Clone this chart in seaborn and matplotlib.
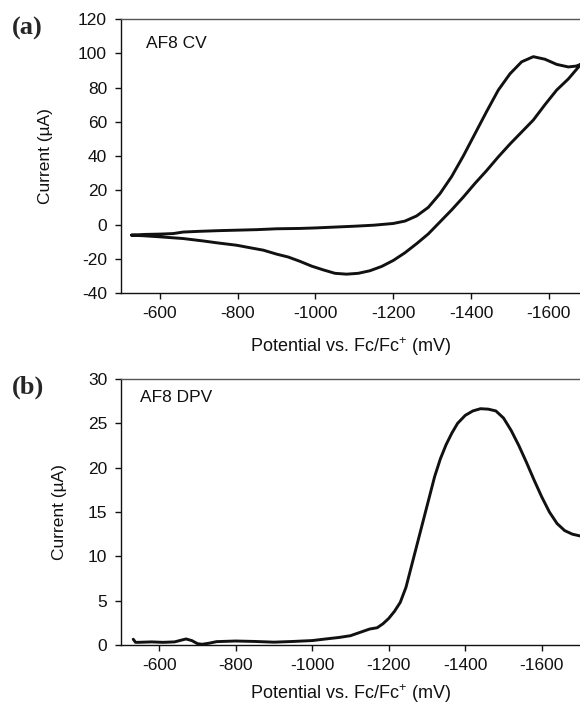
import numpy as np
import pandas as pd
import matplotlib
matplotlib.use('Agg')
import matplotlib.pyplot as plt
import seaborn as sns

# (a) CV of AF8 - cathodic sweep then the return sweep (one closed loop)
cv_E = [-527, -560, -600, -634, -660, -700, -750, -800, -850, -900, -960,
        -1000, -1050, -1100, -1150, -1200, -1230, -1260, -1290, -1320, -1350,
        -1380, -1410, -1440, -1470, -1500, -1530, -1560, -1590, -1620, -1650,
        -1670, -1682,
        -1650, -1620, -1590, -1560, -1530, -1500, -1470, -1440, -1410, -1380,
        -1350, -1320, -1290, -1260, -1230, -1200, -1170, -1140, -1110, -1080,
        -1050, -1020, -990, -960, -930, -900, -866, -830, -797, -750, -711,
        -660, -600, -560, -527]
cv_I = [-6.2, -5.8, -5.6, -5.3, -4.4, -4.0, -3.6, -3.3, -3.0, -2.5, -2.3,
        -2.0, -1.5, -1.0, -0.4, 0.6, 2.0, 5.0, 10.0, 18.0, 28.0,
        40.0, 53.0, 66.0, 78.5, 88.0, 95.0, 98.0, 96.5, 93.5, 92.0,
        92.5, 93.5,
        85.0, 78.5, 70.0, 61.0, 54.0, 47.0, 39.5, 31.5, 24.0, 16.0,
        8.5, 1.5, -5.5, -11.2, -16.5, -21.0, -24.5, -27.0, -28.5, -29.0,
        -28.5, -26.5, -24.3, -21.5, -19.0, -17.3, -15.0, -13.5, -12.1, -10.8, -9.6,
        -8.2, -7.2, -6.6, -6.2]

# (b) DPV of AF8
dpv_E = [-532, -538, -545, -580, -610, -640, -658, -670, -685, -700, -712,
         -730, -750, -800, -850, -900, -950, -1000, -1035, -1070, -1100,
         -1130, -1150, -1170, -1185, -1200, -1215, -1230, -1245, -1260, -1275,
         -1290, -1305, -1320, -1335, -1350, -1365, -1380, -1400, -1420, -1440,
         -1460, -1480, -1500, -1520, -1540, -1560, -1580, -1600, -1620, -1640,
         -1660, -1680, -1700]
dpv_I = [0.65, 0.3, 0.3, 0.35, 0.3, 0.35, 0.55, 0.68, 0.5, 0.15, 0.08,
         0.2, 0.38, 0.45, 0.4, 0.32, 0.4, 0.5, 0.68, 0.85, 1.05,
         1.5, 1.8, 1.95, 2.4, 3.0, 3.8, 4.8, 6.5, 9.0, 11.5,
         14.0, 16.5, 19.0, 21.0, 22.6, 23.9, 25.0, 25.9, 26.4, 26.65,
         26.6, 26.4, 25.6, 24.2, 22.5, 20.6, 18.6, 16.7, 15.0, 13.7,
         12.9, 12.5, 12.3]

x_ticks = [-600, -800, -1000, -1200, -1400, -1600]
cv_yticks = [-40, -20, 0, 20, 40, 60, 80, 100, 120]
dpv_yticks = [0, 5, 10, 15, 20, 25, 30]

cv_df = pd.DataFrame({'E': cv_E, 'I': cv_I})
dpv_df = pd.DataFrame({'E': dpv_E, 'I': dpv_I})

sns.set_style('ticks')
plt.rcParams['font.family'] = ['Liberation Sans', 'DejaVu Sans']
plt.rcParams['axes.unicode_minus'] = False
plt.rcParams['mathtext.fontset'] = 'custom'
plt.rcParams['mathtext.rm'] = 'Liberation Sans'

fs = 12.5
fig = plt.figure(figsize=(5.8, 7.06), dpi=100)
ax1 = fig.add_axes([121/580, 1-293/706, 459/580, 274/706])
ax2 = fig.add_axes([121/580, 1-645/706, 459/580, 266/706])

sns.lineplot(data=cv_df, x='E', y='I', sort=False, estimator=None,
             color='#111111', linewidth=2.1, ax=ax1)
sns.lineplot(data=dpv_df, x='E', y='I', sort=False, estimator=None,
             color='#111111', linewidth=2.1, ax=ax2)

xlabel = r'Potential vs. Fc/Fc$^{+}$ (mV)'
for ax, xlim, yt, ylbl_x, xlbl_y in [(ax1, (-500, -1680), cv_yticks, -0.148, -0.155),
                                     (ax2, (-500, -1700), dpv_yticks, -0.118, -0.14)]:
    ax.set_xlim(*xlim)
    ax.set_ylim(yt[0], yt[-1])
    ax.set_xticks(x_ticks)
    ax.set_yticks(yt)
    ax.spines['right'].set_visible(False)
    ax.spines['top'].set_color('#555555')
    for s in ['left', 'bottom', 'top']:
        ax.spines[s].set_linewidth(1.0)
    ax.spines['left'].set_color('#111111')
    ax.spines['bottom'].set_color('#111111')
    ax.tick_params(direction='out', length=4, width=1, labelsize=fs,
                   color='#111111', labelcolor='#111111', pad=5)
    ax.tick_params(axis='y', pad=6)
    ax.tick_params(top=False, right=False)
    ax.set_xlabel(xlabel, fontsize=13, color='#111111')
    ax.set_ylabel('Current (µA)', fontsize=12.5, color='#111111')
    ax.yaxis.set_label_coords(ylbl_x, 0.5)
    ax.xaxis.set_label_coords(0.5, xlbl_y)

ax1.text(0.054, 0.909, 'AF8 CV', transform=ax1.transAxes, fontsize=fs,
         va='center', ha='left', color='#111111')
ax2.text(0.041, 0.932, 'AF8 DPV', transform=ax2.transAxes, fontsize=fs,
         va='center', ha='left', color='#111111')

fig.text(0.02, 1-28/706, '(a)', fontsize=19, fontweight='bold',
         family='Liberation Serif', va='center', ha='left')
fig.text(0.02, 1-387/706, '(b)', fontsize=19, fontweight='bold',
         family='Liberation Serif', va='center', ha='left')

fig.savefig('out.png', dpi=100)
